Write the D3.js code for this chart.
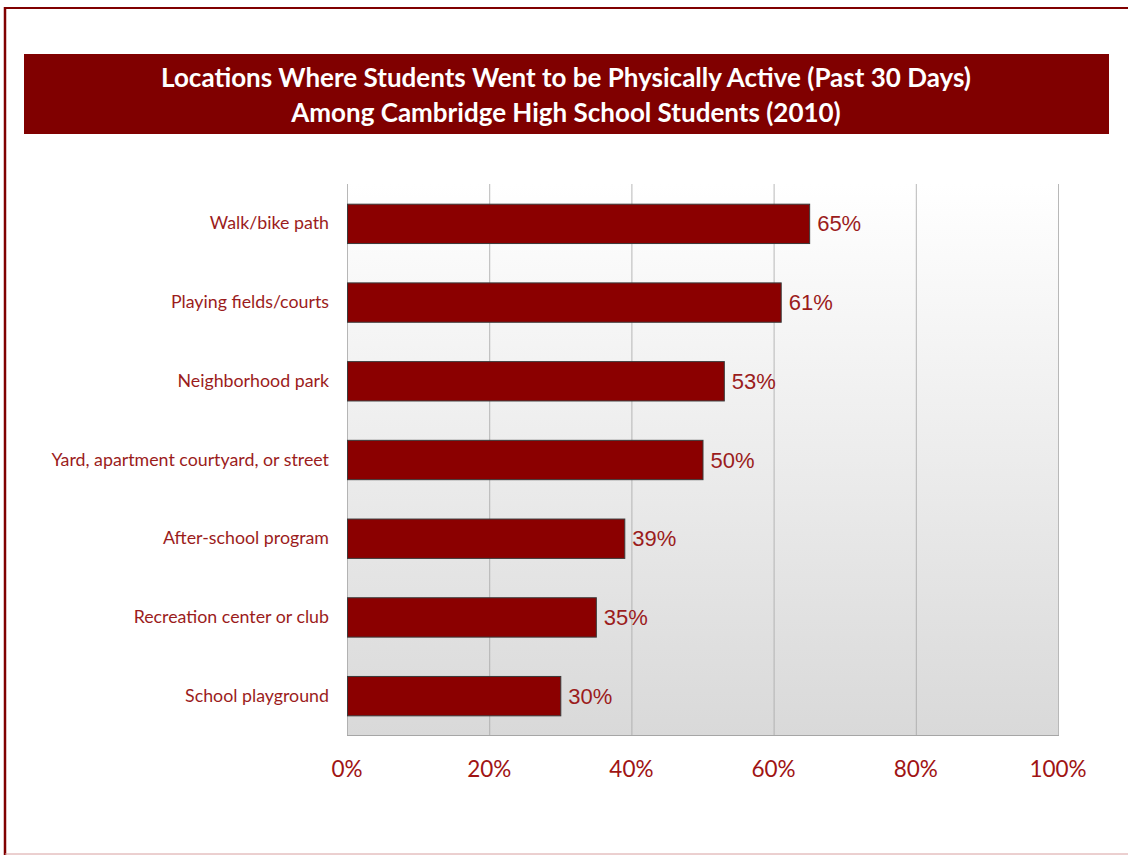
<!DOCTYPE html>
<html><head><meta charset="utf-8">
<script src="https://cdn.jsdelivr.net/npm/d3@7"></script>
<style>body{margin:0;background:#fff;}svg{display:block;}</style>
</head><body>
<svg id="chart" width="1128" height="855"></svg>
<script>
const titleLines = ["Locations Where Students Went to be Physically Active (Past 30 Days)", "Among Cambridge High School Students (2010)"];
const categories = ["Walk/bike path","Playing fields/courts","Neighborhood park","Yard, apartment courtyard, or street","After-school program","Recreation center or club","School playground"];
const values = [65, 61, 53, 50, 39, 35, 30];
const tickValues = [0, 20, 40, 60, 80, 100];

const svg = d3.select("#chart");
const defs = svg.append("defs");
const grad = defs.append("linearGradient").attr("id","bg").attr("x1",0).attr("y1",0).attr("x2",0).attr("y2",1);
grad.append("stop").attr("offset","0%").attr("stop-color","#ffffff");
grad.append("stop").attr("offset","100%").attr("stop-color","#d9d9d9");

// outer border
svg.append("line").attr("x1",5).attr("x2",1128).attr("y1",8).attr("y2",8).attr("stroke","#800000").attr("stroke-width",2);
svg.append("line").attr("x1",5).attr("x2",5).attr("y1",7).attr("y2",855).attr("stroke","#800000").attr("stroke-width",2.5);
svg.append("line").attr("x1",5).attr("x2",1128).attr("y1",854).attr("y2",854).attr("stroke","#d8a0a0").attr("stroke-width",1);

// title
svg.append("rect").attr("x",24).attr("y",54).attr("width",1085).attr("height",80).attr("fill","#800000");
svg.append("g").selectAll("text").data(titleLines).join("text")
  .attr("x",566).attr("y",(d,i)=>87+i*35)
  .attr("text-anchor","middle").attr("fill","#fff")
  .attr("font-family","Lato, 'Open Sans', sans-serif").attr("font-weight","bold").attr("font-size",26)
  .text(d=>d);

const x = d3.scaleLinear().domain([0,100]).range([347,1058]);
const y = d3.scaleBand().domain(categories).range([184,735]).paddingInner(0.5).paddingOuter(0.25);

// plot area
svg.append("rect").attr("x",x(0)).attr("y",184).attr("width",x(100)-x(0)).attr("height",551).attr("fill","url(#bg)");
svg.append("g").selectAll("line").data(tickValues).join("line")
  .attr("x1",d=>x(d)+0.5).attr("x2",d=>x(d)+0.5).attr("y1",184).attr("y2",735)
  .attr("stroke","#a6a6a6").attr("stroke-width",1).attr("stroke-opacity",0.8);
svg.append("line").attr("x1",x(0)).attr("x2",x(100)+1).attr("y1",735.5).attr("y2",735.5).attr("stroke","#a6a6a6");

// bars
svg.append("g").selectAll("rect").data(values).join("rect")
  .attr("x",x(0)+0.5).attr("y",(d,i)=>y(categories[i])+0.5)
  .attr("width",d=>x(d)-x(0)).attr("height",y.bandwidth())
  .attr("fill","#8b0000").attr("stroke","#3a3a3a").attr("stroke-width",1);

// value labels
svg.append("g").selectAll("text").data(values).join("text")
  .attr("x",d=>x(d)+8).attr("y",(d,i)=>y(categories[i])+y.bandwidth()/2+8)
  .attr("fill","#9b1c1c").attr("font-family","'Liberation Sans', Arial, sans-serif").attr("font-size",22)
  .text(d=>d+"%");

// category labels
svg.append("g").selectAll("text").data(categories).join("text")
  .attr("x",329).attr("y",d=>y(d)+y.bandwidth()/2+6)
  .attr("text-anchor","end").attr("fill","#9b1c1c")
  .attr("font-family","Lato, 'Open Sans', sans-serif").attr("font-size",17.8)
  .text(d=>d);

// x axis labels
svg.append("g").selectAll("text").data(tickValues).join("text")
  .attr("x",d=>x(d)).attr("y",777).attr("text-anchor","middle")
  .attr("fill","#a01414").attr("font-family","Lato, 'Open Sans', sans-serif").attr("font-size",22.5)
  .text(d=>d+"%");
</script>
</body></html>
